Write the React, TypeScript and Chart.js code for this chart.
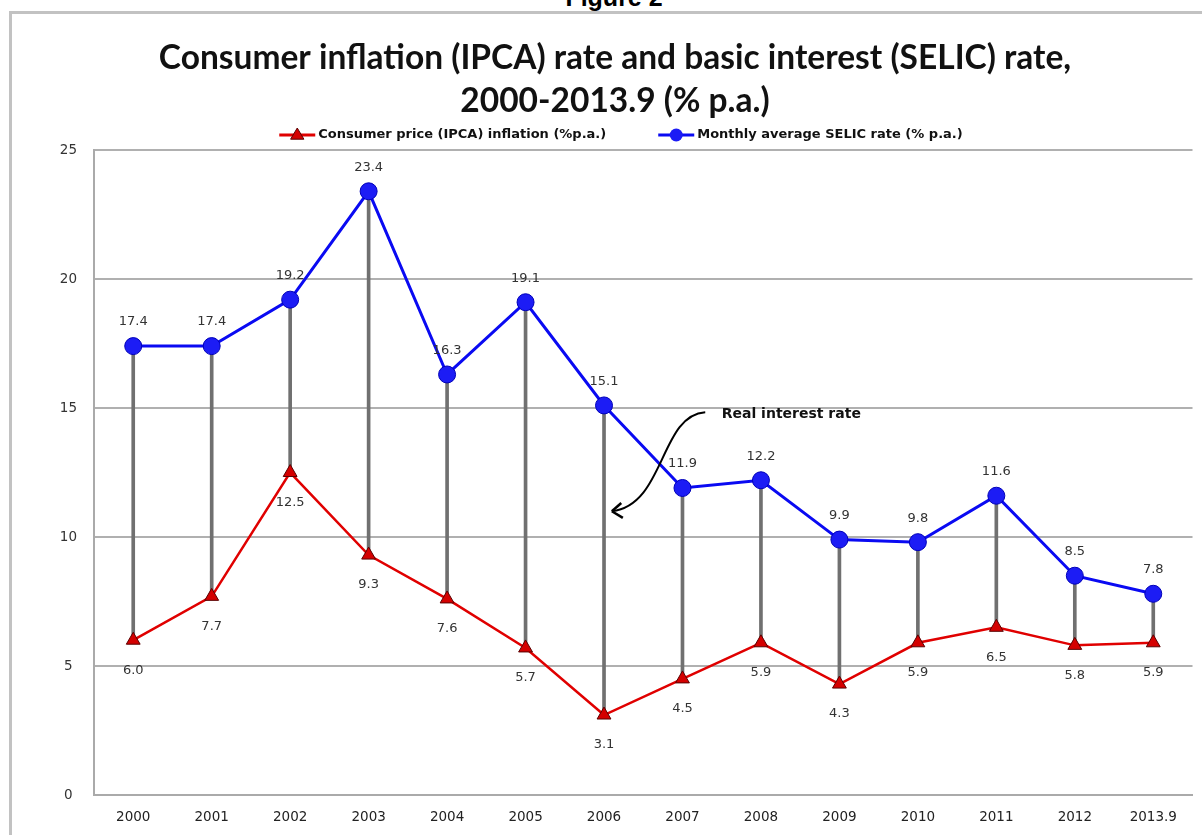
import React, { useEffect, useRef } from "react";
import { Chart, registerables } from "chart.js";

Chart.register(...registerables);

const years = ["2000", "2001", "2002", "2003", "2004", "2005", "2006", "2007", "2008", "2009", "2010", "2011", "2012", "2013.9"];
const ipca = [6.0, 7.7, 12.5, 9.3, 7.6, 5.7, 3.1, 4.5, 5.9, 4.3, 5.9, 6.5, 5.8, 5.9];
const selic = [17.4, 17.4, 19.2, 23.4, 16.3, 19.1, 15.1, 11.9, 12.2, 9.9, 9.8, 11.6, 8.5, 7.8];
const yTicks = [0, 5, 10, 15, 20, 25];

const TITLE_LINES = ["Consumer inflation (IPCA) rate and basic interest (SELIC) rate,", "2000-2013.9 (% p.a.)"];
const IPCA_LABEL = "Consumer price (IPCA) inflation (%p.a.)";
const SELIC_LABEL = "Monthly average SELIC rate (% p.a.)";
const ANNOTATION_TEXT = "Real interest rate";

// annotation arrow in data space: [category index, value]
const arrowCurve = [[7.29, 14.84], [6.71, 14.73], [6.78, 11.24], [6.1, 11.0]];
const arrowHeadArms = [[6.22, 11.32], [6.24, 10.74]];
const annotationTextPos = [7.5, 14.77];

const RED = "#e00000";
const BLUE = "#0a0af2";
const TITLE_FONT = "Lato, 'Open Sans', sans-serif";
const FONT = "'DejaVu Sans', Verdana, sans-serif";

function drawTriangle(ctx: CanvasRenderingContext2D, x: number, y: number, r: number) {
  ctx.beginPath();
  ctx.moveTo(x, y - r);
  ctx.lineTo(x + r * 0.95, y + r * 0.6);
  ctx.lineTo(x - r * 0.95, y + r * 0.6);
  ctx.closePath();
  ctx.fillStyle = "#d40000";
  ctx.fill();
  ctx.strokeStyle = "#5a0000";
  ctx.lineWidth = 1;
  ctx.stroke();
}

const legendPlugin = {
  id: "customLegend",
  afterDraw(chart: any) {
    const ctx = chart.ctx as CanvasRenderingContext2D;
    ctx.save();
    ctx.font = `bold 13px ${FONT}`;
    ctx.textBaseline = "middle";
    ctx.textAlign = "left";
    const items = [
      { text: IPCA_LABEL, color: RED, kind: "tri" },
      { text: SELIC_LABEL, color: BLUE, kind: "circ" },
    ];
    const lineW = 36, gap = 3, itemGap = 52;
    const widths = items.map((it) => lineW + gap + ctx.measureText(it.text).width);
    const total = widths[0] + widths[1] + itemGap;
    let x = 621 - total / 2;
    const y = 135;
    items.forEach((it, i) => {
      ctx.strokeStyle = it.color;
      ctx.lineWidth = 3;
      ctx.beginPath();
      ctx.moveTo(x, y);
      ctx.lineTo(x + lineW, y);
      ctx.stroke();
      if (it.kind === "tri") {
        drawTriangle(ctx, x + lineW / 2, y, 7);
      } else {
        ctx.beginPath();
        ctx.arc(x + lineW / 2, y, 6.5, 0, Math.PI * 2);
        ctx.fillStyle = "#1c1cf5";
        ctx.fill();
      }
      ctx.fillStyle = "#111";
      ctx.fillText(it.text, x + lineW + gap, y);
      x += widths[i] + itemGap;
    });
    ctx.restore();
  },
};

const labelsPlugin = {
  id: "valueLabels",
  afterDatasetsDraw(chart: any) {
    const ctx = chart.ctx as CanvasRenderingContext2D;
    ctx.save();
    ctx.font = `13px ${FONT}`;
    ctx.fillStyle = "#333";
    ctx.textAlign = "center";
    ctx.textBaseline = "middle";
    const selicMeta = chart.getDatasetMeta(1);
    selicMeta.data.forEach((pt: any, j: number) => {
      ctx.fillText(selic[j].toFixed(1), pt.x, pt.y - 24);
    });
    const ipcaMeta = chart.getDatasetMeta(0);
    ipcaMeta.data.forEach((pt: any, j: number) => {
      ctx.fillText(ipca[j].toFixed(1), pt.x, pt.y + 30);
    });

    // annotation
    const xs = chart.scales.x, ys = chart.scales.y;
    const P = (p: number[]) => [xs.getPixelForValue(p[0]), ys.getPixelForValue(p[1])];
    const c = arrowCurve.map(P);
    ctx.strokeStyle = "#000";
    ctx.lineWidth = 2;
    ctx.beginPath();
    ctx.moveTo(c[0][0], c[0][1]);
    ctx.bezierCurveTo(c[1][0], c[1][1], c[2][0], c[2][1], c[3][0], c[3][1]);
    ctx.stroke();
    ctx.lineWidth = 2.5;
    arrowHeadArms.map(P).forEach((a) => {
      ctx.beginPath();
      ctx.moveTo(c[3][0], c[3][1]);
      ctx.lineTo(a[0], a[1]);
      ctx.stroke();
    });
    const t = P(annotationTextPos);
    ctx.font = `bold 14px ${FONT}`;
    ctx.fillStyle = "#111";
    ctx.textAlign = "left";
    ctx.fillText(ANNOTATION_TEXT, t[0], t[1]);
    ctx.restore();
  },
};

export default function App() {
  const ref = useRef<HTMLCanvasElement | null>(null);
  useEffect(() => {
    if (!ref.current) return;
    const chart = new Chart(ref.current, {
      type: "line",
      data: {
        labels: years,
        datasets: [
          {
            type: "line",
            label: IPCA_LABEL,
            data: ipca,
            borderColor: RED,
            borderWidth: 2.5,
            pointStyle: "triangle",
            pointRadius: 8,
            pointBackgroundColor: "#d40000",
            pointBorderColor: "#5a0000",
            pointBorderWidth: 1,
            tension: 0,
            order: 2,
          },
          {
            type: "line",
            label: SELIC_LABEL,
            data: selic,
            borderColor: BLUE,
            borderWidth: 3,
            pointStyle: "circle",
            pointRadius: 8.5,
            pointBackgroundColor: "#1c1cf5",
            pointBorderColor: "#0000b8",
            pointBorderWidth: 1,
            tension: 0,
            order: 1,
          },
          {
            type: "bar",
            label: "spread",
            data: years.map((_, i) => [ipca[i], selic[i]]) as any,
            backgroundColor: "#707070",
            barThickness: 3,
            order: 3,
          } as any,
        ],
      },
      options: {
        animation: false,
        responsive: false,
        layout: { padding: { left: 36, right: 8, top: 0, bottom: 8 } },
        plugins: {
          legend: { display: false },
          tooltip: { enabled: false },
          title: {
            display: true,
            text: TITLE_LINES,
            color: "#111",
            font: { family: TITLE_FONT, size: 33.5, weight: "bold", lineHeight: 1.284 },
            padding: { top: 37, bottom: 27 },
          },
        },
        scales: {
          x: {
            offset: true,
            grid: { display: false, drawTicks: false },
            border: { display: true, color: "#aaaaaa", width: 2 },
            ticks: { color: "#222", font: { family: FONT, size: 13.5 }, padding: 14, maxRotation: 0, autoSkip: false },
            afterFit: (s: any) => { s.height = 32; },
          },
          y: {
            min: 0,
            max: 25,
            afterBuildTicks: (s: any) => { s.ticks = yTicks.map((v) => ({ value: v })); },
            grid: { color: "#b0b0b0", lineWidth: 2, drawTicks: false },
            border: { display: true, color: "#aaaaaa", width: 2 },
            ticks: { color: "#333", font: { family: FONT, size: 13.5 }, padding: 17, crossAlign: "center" },
            afterFit: (s: any) => { s.width = 58; },
          },
        },
      },
      plugins: [labelsPlugin, legendPlugin],
    } as any);
    return () => chart.destroy();
  }, []);

  return (
    <div style={{ position: "fixed", left: 0, top: 0, width: 1202, height: 835, background: "#fff", overflow: "hidden" }}>
      <div
        style={{
          position: "absolute",
          left: 0,
          width: 1228,
          top: -15,
          textAlign: "center",
          fontFamily: "'Liberation Sans', Arial, sans-serif",
          fontWeight: "bold",
          fontSize: 25,
          lineHeight: "25px",
          color: "#000",
        }}
      >
        Figure 2
      </div>
      <div
        style={{
          position: "absolute",
          left: 9,
          top: 11,
          width: 1300,
          height: 1000,
          border: "3px solid #c2c2c2",
          background: "#fff",
        }}
      />
      <canvas ref={ref} width={1202} height={835} style={{ position: "absolute", left: 0, top: 0 }} />
    </div>
  );
}
